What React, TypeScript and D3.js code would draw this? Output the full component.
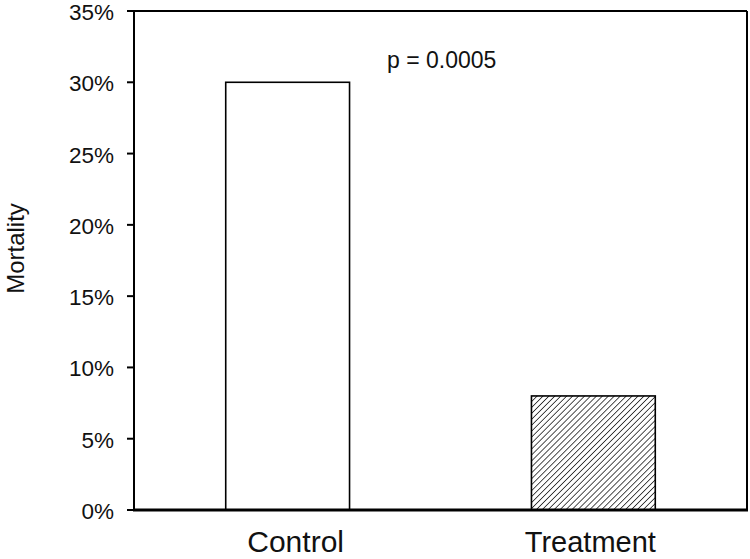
import React from "react";
import * as d3 from "d3";

const categories = ["Control", "Treatment"];
const mortality = [0.30, 0.08];
const yTicks = [0, 0.05, 0.1, 0.15, 0.2, 0.25, 0.3, 0.35];
const annotation = "p = 0.0005";

export default function App() {
  const W = 750, H = 559;
  const left = 134, right = 747, top = 11, bottom = 510;
  const y = d3.scaleLinear().domain([0, 0.35]).range([bottom, top]);
  const x = d3.scaleBand().domain(categories).range([left, right]).paddingInner(0.595).paddingOuter(0.3);
  const fmt = d3.format(".0%");
  const font = "'Liberation Sans', Arial, Helvetica, sans-serif";
  return (
    <svg width={W} height={H} style={{ position: "absolute", left: 0, top: 0, background: "#fff" }}>
      <defs>
        <pattern id="hatch" patternUnits="userSpaceOnUse" width={4.2} height={4.2} patternTransform="rotate(45)">
          <rect width={4.2} height={4.2} fill="#fff" />
          <line x1={0} y1={0} x2={0} y2={4.2} stroke="#222" strokeWidth={1.6} />
        </pattern>
      </defs>
      <rect x={0} y={0} width={W} height={H} fill="#fff" />
      {/* frame */}
      <line x1={left} x2={right} y1={top} y2={top} stroke="#000" strokeWidth={2} />
      <line x1={right} x2={right} y1={top} y2={bottom} stroke="#000" strokeWidth={2} />
      <line x1={left} x2={left} y1={top} y2={bottom} stroke="#000" strokeWidth={2} />
      {/* bars */}
      {categories.map((c, i) => (
        <rect key={c} x={x(c)} y={y(mortality[i])} width={x.bandwidth()} height={bottom - y(mortality[i])}
          fill={i === 0 ? "#fff" : "url(#hatch)"} stroke="#000" strokeWidth={1.6} />
      ))}
      <line x1={left - 1} x2={right + 1} y1={bottom} y2={bottom} stroke="#000" strokeWidth={3} />
      {/* y ticks */}
      {yTicks.map((t) => (
        <g key={t}>
          <line x1={left - 7} x2={left} y1={y(t)} y2={y(t)} stroke="#000" strokeWidth={2} />
          <text x={left - 20} y={y(t)} dy="0.4em" textAnchor="end" fontFamily={font} fontSize={22.5} fill="#111">
            {fmt(t)}
          </text>
        </g>
      ))}
      {/* x labels */}
      {categories.map((c, i) => (
        <text key={c} x={x(c)! + x.bandwidth() / 2 + (i === 0 ? 8 : -3)} y={552} textAnchor="middle" fontFamily={font} fontSize={i === 0 ? 30 : 29} fill="#111">
          {c}
        </text>
      ))}
      <text transform={`translate(24,${(top + bottom) / 2 - 12}) rotate(-90)`} textAnchor="middle" fontFamily={font} fontSize={24} fill="#111">
        Mortality
      </text>
      <text x={387} y={68} fontFamily={font} fontSize={23} fill="#111">{annotation}</text>
    </svg>
  );
}
